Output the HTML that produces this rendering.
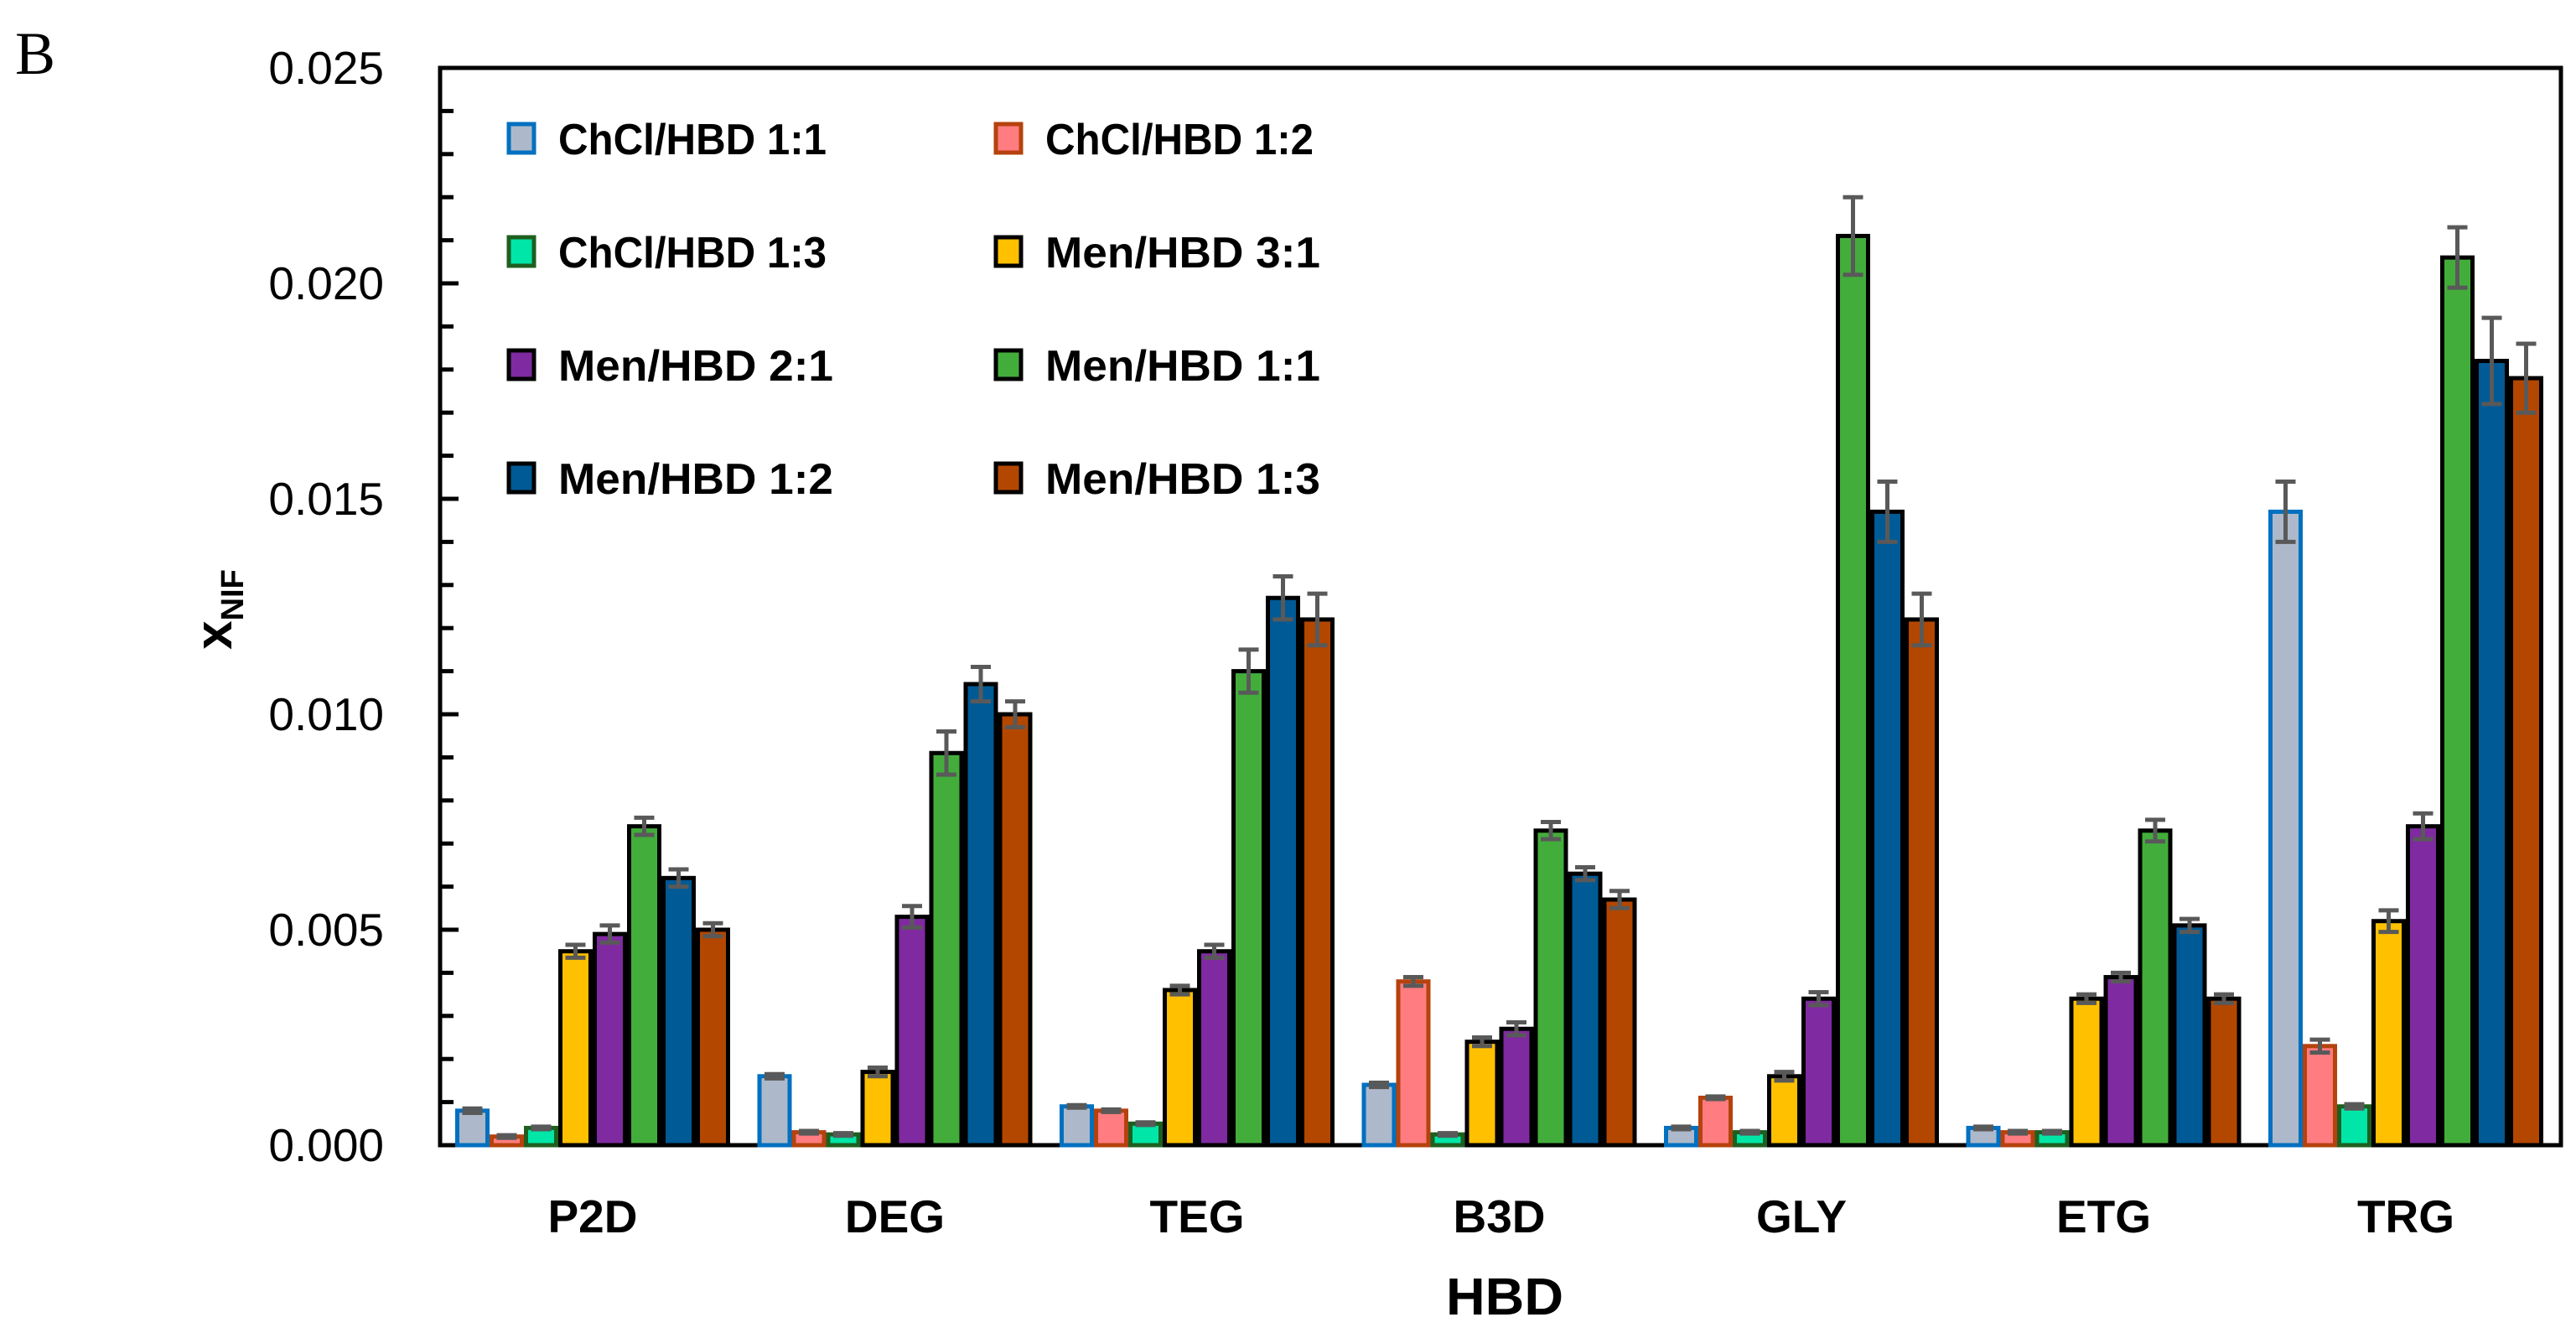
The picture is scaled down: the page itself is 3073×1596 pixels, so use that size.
<!DOCTYPE html>
<html><head><meta charset="utf-8"><style>html,body{margin:0;padding:0;background:#fff}svg{display:block}</style></head>
<body>
<svg id="chart" width="3073" height="1596" viewBox="0 0 3073 1596" xmlns="http://www.w3.org/2000/svg" font-family="Liberation Sans, sans-serif">
<text x="18" y="88" font-family="Liberation Serif, serif" font-size="72">B</text>
<g id="axes"></g>
<g id="bars"></g>
<g id="legend"></g>
<text x="1795" y="1568" text-anchor="middle" font-weight="bold" font-size="62" textLength="140" lengthAdjust="spacingAndGlyphs">HBD</text>
<text transform="translate(276,727) rotate(-90)" text-anchor="middle" font-weight="bold" font-size="62">x<tspan font-size="38" dy="14">NIF</tspan></text>
</svg>
<script>
const categories = ["P2D","DEG","TEG","B3D","GLY","ETG","TRG"];
const seriesNames = ["ChCl/HBD 1:1","ChCl/HBD 1:2","ChCl/HBD 1:3","Men/HBD 3:1","Men/HBD 2:1","Men/HBD 1:1","Men/HBD 1:2","Men/HBD 1:3"];
const chcl11 = [0.0008,0.0016,0.0009,0.0014,0.0004,0.0004,0.0147];
const chcl12 = [0.0002,0.0003,0.0008,0.0038,0.0011,0.0003,0.0023];
const chcl13 = [0.0004,0.00025,0.0005,0.00025,0.0003,0.0003,0.0009];
const men31 = [0.0045,0.0017,0.0036,0.0024,0.0016,0.0034,0.0052];
const men21 = [0.0049,0.0053,0.0045,0.0027,0.0034,0.0039,0.0074];
const men11 = [0.0074,0.0091,0.0110,0.0073,0.0211,0.0073,0.0206];
const men12 = [0.0062,0.0107,0.0127,0.0063,0.0147,0.0051,0.0182];
const men13 = [0.0050,0.0100,0.0122,0.0057,0.0122,0.0034,0.0178];
const err11 = [0.00005,0.00005,0.00003,0.00005,0.00003,0.00003,0.0007];
const err12 = [0.00003,0.00003,0.00003,0.0001,0.00003,0.00003,0.00015];
const err13 = [0.00003,0.00003,0.00003,0.00003,0.00003,0.00003,0.00005];
const errM31 = [0.00015,0.0001,0.0001,0.0001,0.0001,0.0001,0.00025];
const errM21 = [0.0002,0.00025,0.00015,0.00015,0.00015,0.0001,0.0003];
const errM11 = [0.0002,0.0005,0.0005,0.0002,0.0009,0.00025,0.0007];
const errM12 = [0.0002,0.0004,0.0005,0.00015,0.0007,0.00015,0.001];
const errM13 = [0.00015,0.0003,0.0006,0.0002,0.0006,0.0001,0.0008];
const yTicks = ["0.000","0.005","0.010","0.015","0.020","0.025"];
const yTickValues = [0,0.005,0.010,0.015,0.020,0.025];

const series = [chcl11,chcl12,chcl13,men31,men21,men11,men12,men13];
const errs = [err11,err12,err13,errM31,errM21,errM11,errM12,errM13];
const fills = ["#adb9ca","#ff7c80","#00e6a8","#ffc000","#7f2aa0","#43ad3c","#005a95","#b34700"];
const strokes = ["#0070c0","#b5420d","#1e5f20","#000","#000","#000","#000","#000"];
const NS = "http://www.w3.org/2000/svg";
const X0 = 525, X1 = 3055, YT = 81, YB = 1366, YMAX = 0.025;
const y = v => YB - (v / YMAX) * (YB - YT);
const groupCenter = i => 707 + 360.5 * i;
const BW = 41;
function mk(tag, attrs, parent) { const e = document.createElementNS(NS, tag); for (const k in attrs) e.setAttribute(k, attrs[k]); parent.appendChild(e); return e; }
const axes = document.getElementById('axes'), bars = document.getElementById('bars'), leg = document.getElementById('legend');

for (let i = 0; i <= 25; i++) {
  const v = i * 0.001, major = i % 5 === 0;
  const t = mk('line', {x1: X0, x2: X0 + (major ? 22 : 16), y1: y(v), y2: y(v), stroke: '#000', 'stroke-width': 5}, axes);
  
  
}
yTicks.forEach((lab, i) => {
  const t = mk('text', {x: 458, y: y(yTickValues[i]) + 19, 'text-anchor': 'end', 'font-size': 55}, axes);
  t.textContent = lab;
  
  
});
categories.forEach((c, i) => {
  const t = mk('text', {x: groupCenter(i), y: 1470, 'text-anchor': 'middle', 'font-size': 55, 'font-weight': 'bold'}, axes);
  t.textContent = c;
  
  
});

series.forEach((vals, s) => {
  vals.forEach((v, i) => {
    const xl = groupCenter(i) - 4 * BW + s * BW;
    const r = mk('rect', {x: xl + 2.5, y: y(v), width: BW - 5, height: YB - y(v), fill: fills[s], stroke: strokes[s], 'stroke-width': 5}, bars);
    
    
    const e = errs[s][i], cx = xl + BW / 2;
    const g = mk('path', {d: `M${cx} ${y(v + e)}V${y(v - e)}M${cx - 12} ${y(v + e)}H${cx + 12}M${cx - 12} ${y(v - e)}H${cx + 12}`, stroke: '#595959', 'stroke-width': 5, fill: 'none'}, bars);
    
    
  });
});

const fr = mk('path', {d: `M${X0} ${YT}H${X1}V${YB}H${X0}Z`, fill: 'none', stroke: '#000', 'stroke-width': 5}, axes);



seriesNames.forEach((n, s) => {
  const col = s % 2, row = Math.floor(s / 2);
  const lx = col ? 1203 : 622, ly = 165 + row * 135;
  const g = mk('g', {}, leg);
  
  
  mk('rect', {x: lx - 15, y: ly - 17, width: 30, height: 34, fill: fills[s], stroke: strokes[s], 'stroke-width': 5}, g);
  const t = mk('text', {x: lx + 44, y: ly + 19, 'font-size': 52, 'font-weight': 'bold', textLength: s < 3 ? 320 : 328, lengthAdjust: 'spacingAndGlyphs'}, g);
  t.textContent = n;
});
</script>
</body></html>
